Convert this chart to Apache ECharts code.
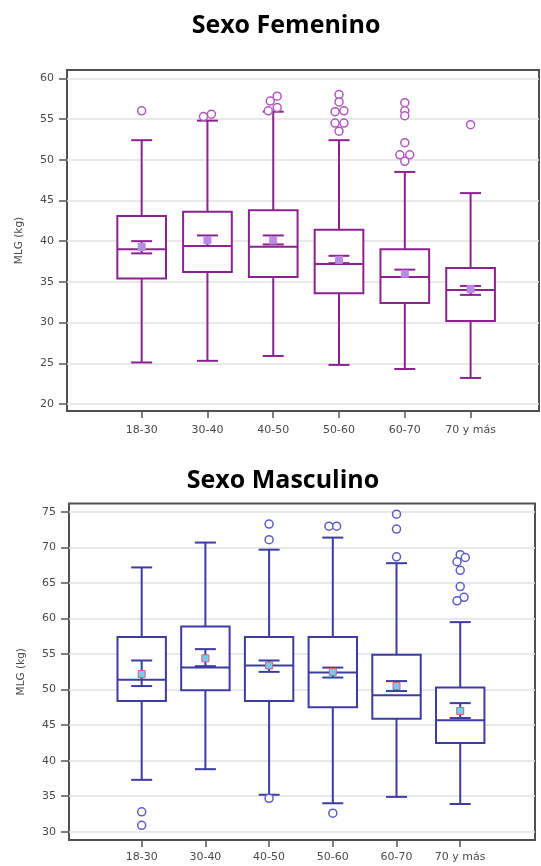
<!DOCTYPE html>
<html>
<head>
<meta charset="utf-8">
<script src="https://cdn.jsdelivr.net/npm/echarts@6/dist/echarts.min.js"></script>
<style>
  html, body { margin: 0; padding: 0; background: #fff; }
  #chart { width: 541px; height: 866px; }
</style>
</head>
<body>
<div id="chart"></div>
<script>
// Age groups shared by both panels
const groups = ['18-30', '30-40', '40-50', '50-60', '60-70', '70 y más'];

// Sexo Femenino: [lower whisker, Q1, median, Q3, upper whisker] per age group
const femBox = [
  [25.1, 35.4, 39.0, 43.1, 52.4],
  [25.3, 36.2, 39.4, 43.6, 54.8],
  [25.9, 35.6, 39.3, 43.8, 55.9],
  [24.8, 33.6, 37.2, 41.4, 52.4],
  [24.3, 32.4, 35.6, 39.0, 48.5],
  [23.2, 30.2, 34.0, 36.7, 45.9]
];
// Sexo Femenino: mean with its confidence interval [low, mean, high]
const femMean = [
  [38.5, 39.3, 40.0],
  [39.4, 40.1, 40.7],
  [39.6, 40.1, 40.7],
  [37.3, 37.7, 38.2],
  [35.6, 36.0, 36.5],
  [33.4, 34.1, 34.5]
];
// Sexo Femenino outliers: [group position, value]
const femOutliers = [
  [0, 56.0],
  [0.94, 55.3], [1.06, 55.6],
  [2.06, 57.8], [1.955, 57.2], [2.06, 56.4], [1.925, 56.0],
  [3, 58.0], [3, 57.1], [2.94, 55.9], [3.075, 56.0], [2.94, 54.5], [3.075, 54.5], [3, 53.5],
  [4, 57.0], [4, 56.0], [4, 55.4], [4, 52.1], [3.925, 50.6], [4.075, 50.6], [4, 49.8],
  [5, 54.3]
];
const femTicks = [20, 25, 30, 35, 40, 45, 50, 55, 60];

// Sexo Masculino: [lower whisker, Q1, median, Q3, upper whisker] per age group
const masBox = [
  [37.3, 48.4, 51.4, 57.4, 67.2],
  [38.8, 49.9, 53.1, 58.9, 70.7],
  [35.2, 48.4, 53.4, 57.4, 69.7],
  [34.0, 47.5, 52.4, 57.4, 71.4],
  [34.9, 45.9, 49.2, 54.9, 67.8],
  [33.9, 42.5, 45.7, 50.3, 59.5]
];
// Sexo Masculino: mean with its confidence interval [low, mean, high]
const masMean = [
  [50.5, 52.2, 54.1],
  [53.3, 54.4, 55.7],
  [52.5, 53.4, 54.1],
  [51.7, 52.5, 53.1],
  [49.8, 50.5, 51.2],
  [46.0, 47.0, 48.1]
];
// Sexo Masculino outliers: [group position, value]
const masOutliers = [
  [0, 32.8], [0, 30.9],
  [2, 73.3], [2, 71.1], [2, 34.7],
  [2.94, 73.0], [3.06, 73.0], [3, 32.6],
  [4, 74.7], [4, 72.6], [4, 68.7],
  [5, 69.0], [5.08, 68.6], [4.95, 68.0], [5, 66.8], [5, 64.5], [5.06, 63.0], [4.95, 62.5]
];
const masTicks = [30, 35, 40, 45, 50, 55, 60, 65, 70, 75];

const groupIdx = groups.map((g, i) => i);

function toItems(box, mean) {
  return box.map((b, i) => [i].concat(b, mean[i]));
}

// Box, whiskers with caps, median, and the mean with its interval bar
function boxRenderer(color, meanFill, meanBorder, boxFrac) {
  return function (params, api) {
    const i = api.value(0);
    const band = api.size([1, 0])[0];
    const half = band * boxFrac / 2;
    const cap = 10.5;
    const p = k => api.coord([i, api.value(k)]);
    const lo = p(1), q1 = p(2), md = p(3), q3 = p(4), hi = p(5);
    const mLo = p(6), mean = p(7), mHi = p(8);
    const x = lo[0];
    const seg = (x1, y1, x2, y2) => ({
      type: 'line',
      shape: { x1: x1, y1: y1, x2: x2, y2: y2 },
      style: { stroke: color, lineWidth: 2 }
    });
    const s = 3.5;
    return {
      type: 'group',
      children: [
        seg(x, hi[1], x, q3[1]),
        seg(x, q1[1], x, lo[1]),
        seg(x - cap, hi[1], x + cap, hi[1]),
        seg(x - cap, lo[1], x + cap, lo[1]),
        {
          type: 'rect',
          shape: { x: x - half, y: q3[1], width: half * 2, height: q1[1] - q3[1] },
          style: { fill: '#fff', stroke: color, lineWidth: 2 }
        },
        seg(x - half, md[1], x + half, md[1]),
        seg(x, mHi[1], x, mLo[1]),
        seg(x - cap, mHi[1], x + cap, mHi[1]),
        seg(x - cap, mLo[1], x + cap, mLo[1]),
        {
          type: 'rect',
          shape: { x: x - s, y: mean[1] - s, width: s * 2, height: s * 2 },
          style: { fill: meanFill, stroke: meanBorder, lineWidth: 1 }
        }
      ]
    };
  };
}

const labelFont = { fontFamily: 'DejaVu Sans, Verdana, sans-serif', fontSize: 11, color: '#4a4a4a' };

function xAxisFor(gridIndex, min, max, margin) {
  return {
    gridIndex: gridIndex,
    type: 'value',
    min: min,
    max: max,
    axisLine: { show: false, onZero: false },
    splitLine: { show: false },
    axisTick: { show: true, customValues: groupIdx, length: 7, lineStyle: { color: '#555', width: 1.5 } },
    axisLabel: Object.assign({ customValues: groupIdx, margin: margin, formatter: v => groups[Math.round(v)] }, labelFont)
  };
}

function yAxisFor(gridIndex, min, max, ticks) {
  return {
    gridIndex: gridIndex,
    type: 'value',
    min: min,
    max: max,
    name: 'MLG (kg)',
    nameLocation: 'middle',
    nameGap: 42,
    nameTextStyle: { fontFamily: 'DejaVu Sans, Verdana, sans-serif', fontSize: 10.5, color: '#4a4a4a' },
    axisLine: { show: false, onZero: false },
    axisTick: { show: true, customValues: ticks, length: 8, lineStyle: { color: '#555', width: 1.5 } },
    axisLabel: Object.assign({ customValues: ticks, margin: 13 }, labelFont),
    splitLine: { show: true, lineStyle: { color: '#e2e2e2', width: 1.5 } }
  };
}

const titleFont = { fontFamily: 'Open Sans, sans-serif', fontWeight: 'bold', fontSize: 25, color: '#000' };

const chart = echarts.init(document.getElementById('chart'), null, { renderer: 'canvas' });
chart.setOption({
  animation: false,
  backgroundColor: '#fff',
  title: [
    { text: 'Sexo Femenino', left: 281, top: 21, textAlign: 'center', textVerticalAlign: 'middle', textStyle: titleFont },
    { text: 'Sexo Masculino', left: 278, top: 476, textAlign: 'center', textVerticalAlign: 'middle', textStyle: titleFont }
  ],
  grid: [
    { left: 67, top: 70, width: 472, height: 341, show: true, borderColor: '#505050', borderWidth: 2, backgroundColor: 'transparent' },
    { left: 69, top: 503.5, width: 466, height: 336.5, show: true, borderColor: '#505050', borderWidth: 2, backgroundColor: 'transparent' }
  ],
  xAxis: [
    xAxisFor(0, -1.135, 6.04, 14),
    xAxisFor(1, -1.141, 6.174, 12)
  ],
  yAxis: [
    yAxisFor(0, 19.14, 61.02, femTicks),
    yAxisFor(1, 28.83, 76.2, masTicks)
  ],
  series: [
    {
      type: 'custom',
      xAxisIndex: 0, yAxisIndex: 0,
      data: toItems(femBox, femMean),
      encode: { x: 0, y: [1, 2, 3, 4, 5, 6, 7, 8] },
      renderItem: boxRenderer('#8c2290', '#b98ae6', '#b98ae6', 0.74)
    },
    {
      type: 'scatter',
      xAxisIndex: 0, yAxisIndex: 0,
      data: femOutliers,
      symbol: 'circle',
      symbolSize: 8,
      itemStyle: { color: '#fff', borderColor: '#b058bc', borderWidth: 1.5, opacity: 1 }
    },
    {
      type: 'custom',
      xAxisIndex: 1, yAxisIndex: 1,
      data: toItems(masBox, masMean),
      encode: { x: 0, y: [1, 2, 3, 4, 5, 6, 7, 8] },
      renderItem: boxRenderer('#3c3ca2', '#7cc8ee', '#d06080', 0.76)
    },
    {
      type: 'scatter',
      xAxisIndex: 1, yAxisIndex: 1,
      data: masOutliers,
      symbol: 'circle',
      symbolSize: 8,
      itemStyle: { color: '#fff', borderColor: '#5c5cc6', borderWidth: 1.5, opacity: 1 }
    }
  ]
});
</script>
</body>
</html>
